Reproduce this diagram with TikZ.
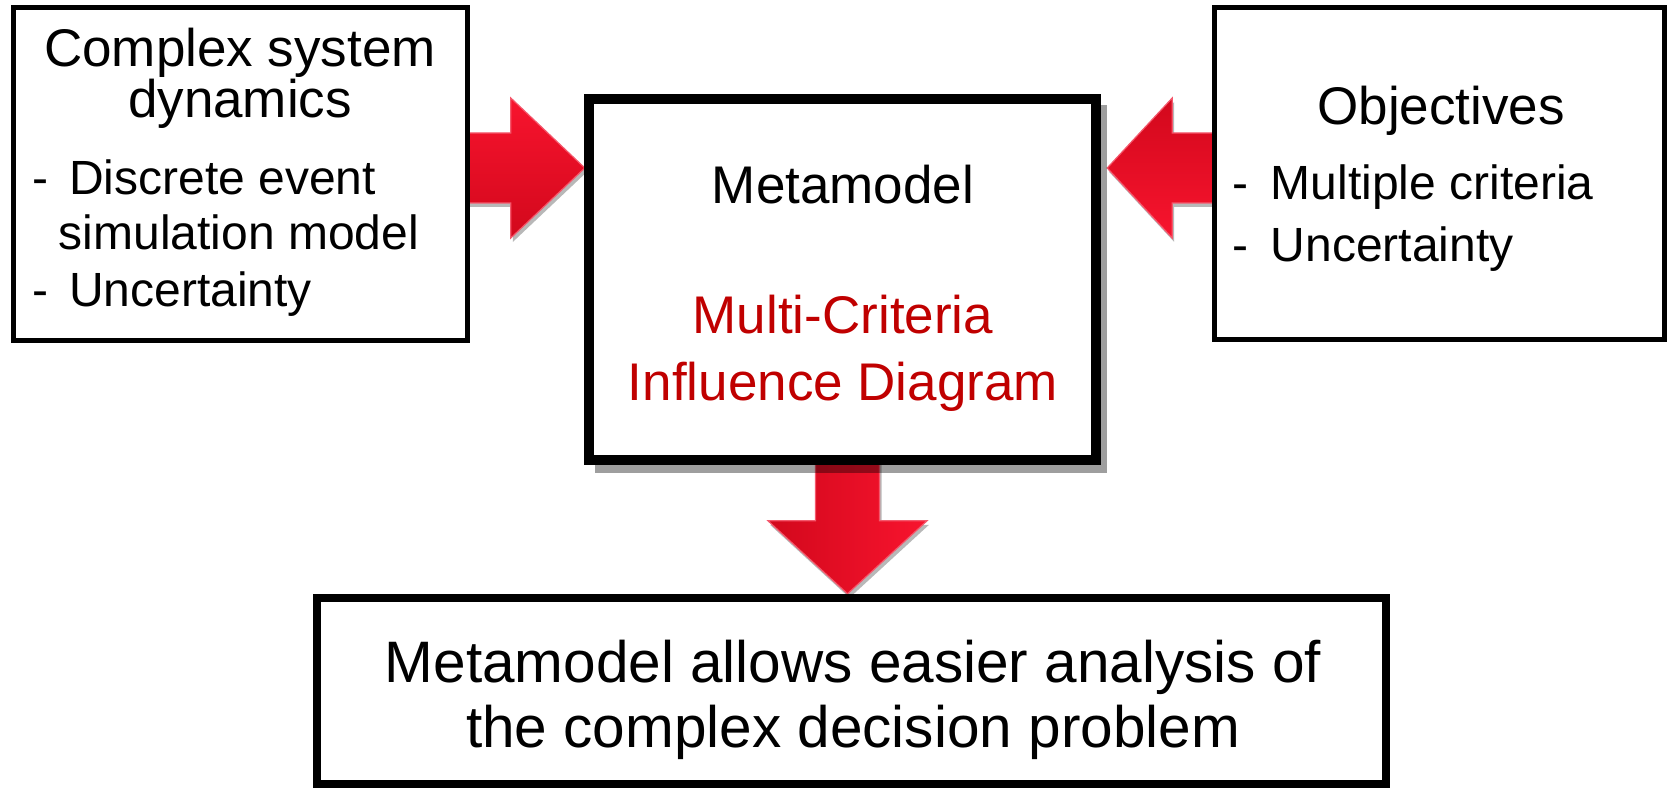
\documentclass[tikz,border=0pt]{standalone}
\usepackage{fontspec}
\setmainfont{Liberation Sans}
\usetikzlibrary{calc}

\definecolor{arrowbright}{RGB}{248,20,46}
\definecolor{arrowdark}{RGB}{210,8,28}
\definecolor{arrowrim}{RGB}{244,88,108}
\definecolor{titlered}{RGB}{192,0,0}

\newcommand\mainsize{\fontsize{53pt}{60pt}\selectfont}
\newcommand\itemsize{\fontsize{48pt}{56pt}\selectfont}
\newcommand\bottomsize{\fontsize{58.5pt}{64pt}\selectfont}

% block arrow: style, tail, tip, shaft half-width, head half-width, head length
\newcommand\blockarrow[6]{%
  \coordinate (hb) at ($(#3)!#6!(#2)$);
  \path[#1] ($(#2)!#4!90:(#3)$) -- ($(hb)!#4!90:(#3)$) -- ($(hb)!#5!90:(#3)$)
    -- (#3) -- ($(hb)!#5!-90:(#3)$) -- ($(hb)!#4!-90:(#3)$)
    -- ($(#2)!#4!-90:(#3)$) -- cycle;
}

\tikzset{
  thinbox/.style={draw=black, line width=5pt, fill=white, rectangle, inner sep=0pt},
  thickbox/.style={draw=black, line width=10pt, fill=white, rectangle, inner sep=0pt},
  basebox/.style={draw=black, line width=8pt, fill=white, rectangle, inner sep=0pt},
  txt/.style={inner sep=0pt, font=\mainsize},
  itemtxt/.style={inner sep=0pt, font=\itemsize, anchor=base west},
  txtb/.style={inner sep=0pt, font=\bottomsize},
  arrowshade/.style={fill=black, opacity=0.28, transform canvas={shift={(2pt,-4pt)}}},
  arrowbody/.style={draw=arrowrim, line width=1.2pt, line join=miter},
}

\begin{document}
\begin{tikzpicture}[x=1pt, y=-1pt]
\useasboundingbox (0,0) rectangle (1673,794);

% box frames (positions only; drawn later on top of arrows)
\path (240.25,173.75) node[minimum width=454.5pt, minimum height=332.5pt, inner sep=0pt] (L) {};
\path (1439.5,173.5) node[minimum width=450pt, minimum height=332pt, inner sep=0pt] (R) {};
\path (842.5,279.5) node[minimum width=507pt, minimum height=361pt, inner sep=0pt] (M) {};
\path (851.5,691) node[minimum width=1069pt, minimum height=186pt, inner sep=0pt] (B) {};

% arrow end points
\coordinate (lvl) at (0,168);
\coordinate (mw) at ([xshift=-4pt]M.west);
\coordinate (me) at ([xshift=11pt]M.east);
\coordinate (la) at (L.east |- lvl);
\coordinate (lb) at (mw |- lvl);
\coordinate (ra) at (R.west |- lvl);
\coordinate (rb) at (me |- lvl);
\coordinate (da) at ([xshift=5pt]M.south);
\coordinate (dbn) at ([yshift=4pt]B.north);
\coordinate (db) at (da |- dbn);

% arrow shadows
\blockarrow{arrowshade}{la}{lb}{35pt}{70pt}{74pt}
\blockarrow{arrowshade}{ra}{rb}{35pt}{70pt}{65pt}
\blockarrow{arrowshade}{da}{db}{32pt}{79.5pt}{73pt}

% arrows
\blockarrow{arrowbody, top color=arrowbright, bottom color=arrowdark}{la}{lb}{35pt}{70pt}{74pt}
\blockarrow{arrowbody, top color=arrowdark, bottom color=arrowbright}{ra}{rb}{35pt}{70pt}{65pt}
\blockarrow{arrowbody, left color=arrowdark, right color=arrowbright}{da}{db}{32pt}{79.5pt}{73pt}

% shadow of the central box
\fill[black, opacity=0.38] ($(M.north west)+(6,6)$) rectangle ($(M.south east)+(11,13)$);

% boxes
\node[thinbox, minimum width=454.5pt, minimum height=332.5pt] (Lb) at (L) {};
\node[thinbox, minimum width=450pt, minimum height=332pt] (Rb) at (R) {};
\node[thickbox, minimum width=507pt, minimum height=361pt] (Mb) at (M) {};
\node[basebox, minimum width=1069pt, minimum height=186pt] (Bb) at (B) {};

% left box text
\node[txt, anchor=base] (lt1) at (240,67) {Complex system};
\node[txt, anchor=base] (lt2) at (240,118) {dynamics};
\node[itemtxt] (lt3) at (32,195) {\makebox[37pt][l]{-}Discrete event};
\node[itemtxt] (lt4) at (58.5,250) {simulation model};
\node[itemtxt] (lt5) at (32,307) {\makebox[37pt][l]{-}Uncertainty};

% right box text
\node[txt, anchor=base] (rt1) at (1441,125) {Objectives};
\node[itemtxt] (rt2) at (1232,200) {\makebox[38.5pt][l]{-}Multiple criteria};
\node[itemtxt] (rt3) at (1232,262) {\makebox[38.5pt][l]{-}Uncertainty};

% central box text
\node[txt, anchor=base] (mt1) at (843,204) {Metamodel};
\node[txt, anchor=base, text=titlered] (mt2) at (843,334) {Multi-Criteria};
\node[txt, anchor=base, text=titlered] (mt3) at (843,400) {Influence Diagram};

% bottom box text
\node[txtb, anchor=base] (bt1) at (853,682) {Metamodel allows easier analysis of};
\node[txtb, anchor=base] (bt2) at (853,747) {the complex decision problem};
\end{tikzpicture}
\end{document}
